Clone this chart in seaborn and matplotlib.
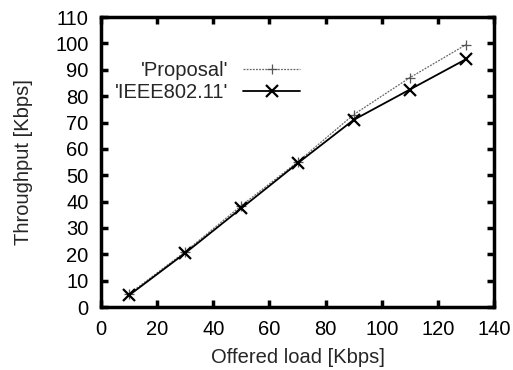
import matplotlib
matplotlib.use("Agg")
import matplotlib.pyplot as plt
import seaborn as sns
import pandas as pd

load = [10, 30, 50, 70, 90, 110, 130]
proposal = [5, 21, 38.5, 55, 73, 87, 99.5]
ieee = [4.5, 20.5, 37.5, 54.5, 71, 82.5, 94]
labels = ["'Proposal'", "'IEEE802.11'"]

sns.set_style("ticks")
plt.rcParams['font.family'] = ['Liberation Sans', 'DejaVu Sans']

df = pd.DataFrame({"load": load, "Proposal": proposal, "IEEE": ieee})

fig = plt.figure(figsize=(5.13, 3.70), dpi=100)
ax = fig.add_axes([0.197, 0.170, 0.766, 0.784])

sns.lineplot(data=df, x="load", y="Proposal", ax=ax, color="#666666", lw=0.9,
             linestyle=(0, (1.5, 1)), marker="+", markersize=7, mew=0.9,
             mec="#555555", label=labels[0])
sns.lineplot(data=df, x="load", y="IEEE", ax=ax, color="black", lw=1.3,
             marker="x", markersize=8, mew=1.6, mec="black", label=labels[1])

ax.set_xlim(0, 140)
ax.set_ylim(0, 110)
ax.set_xticks(range(0, 141, 20))
ax.set_yticks(range(0, 111, 10))
ax.tick_params(direction="in", length=5, width=2.5, top=True, right=True,
               labelsize=14.5, pad=9, colors="black")
for s in ax.spines.values():
    s.set_linewidth(2.5)
    s.set_color("black")
ax.set_xlabel("Offered load [Kbps]", fontsize=14.5, labelpad=7)
ax.set_ylabel("Throughput [Kbps]", fontsize=14.5, labelpad=16)

leg = ax.legend(loc="upper right", bbox_to_anchor=(0.552, 0.912), frameon=False,
                markerfirst=False, fontsize=14.5, handlelength=2.8,
                handletextpad=0.75, labelspacing=0.15, alignment="right")
for t in leg.get_texts():
    t.set_ha("right")

fig.savefig("out.png", dpi=100)
